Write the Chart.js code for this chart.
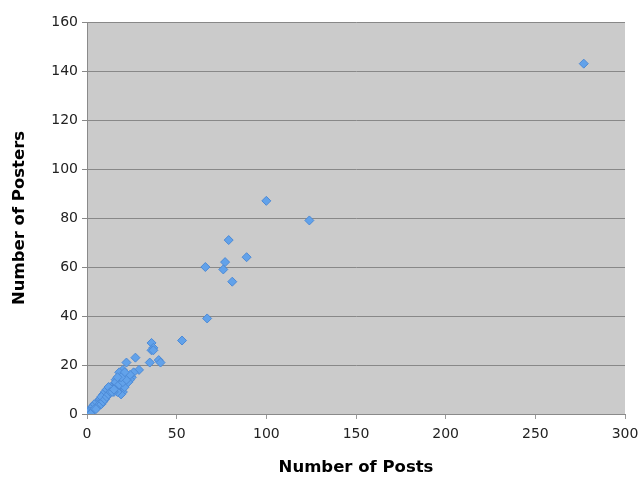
<!DOCTYPE html>
<html>
<head>
<meta charset="utf-8">
<script src="https://cdn.jsdelivr.net/npm/chart.js@4"></script>
<style>
  html, body { margin: 0; padding: 0; background: #fff; }
  #wrap { width: 641px; height: 478px; }
</style>
</head>
<body>
<div id="wrap"><canvas id="posts-chart" width="641" height="478"></canvas></div>
<script>
// values
var posts = [277, 100, 124, 79, 89, 77, 66, 76, 81, 67, 53,
    36, 37, 36, 37, 40, 41, 35, 27, 22, 20, 29, 18, 25, 16, 24,
    14, 18, 20, 19, 15, 17, 21, 23, 19, 22, 26, 12, 13, 11, 10,
    10, 9, 9, 8, 8, 7, 7, 6, 6, 5, 5, 4, 4, 3, 3, 2, 2, 1, 1, 0.5,
    11, 12, 13, 14, 16, 17, 15, 9, 10, 8, 11, 12, 16, 18, 20, 22, 24, 21, 19, 17,
    6, 7, 8, 9, 10, 11, 12, 13, 14, 15, 3, 4, 5, 2];
var posters = [143, 87, 79, 71, 64, 62, 60, 59, 54, 39, 30,
    29, 27, 26, 26, 22, 21, 21, 23, 21, 18, 18, 17, 15, 14, 14,
    11, 9, 9, 8, 12, 11, 11, 13, 13, 16, 17, 10, 11, 9, 8,
    7, 7, 6, 6, 5, 5, 6, 5, 4, 4, 3, 3, 4, 2, 3, 2, 1, 1, 0, 0.5,
    8, 9, 10, 10, 10, 9, 9, 8, 9, 7, 10, 11, 13, 12, 13, 14, 16, 17, 15, 15,
    3, 4, 4, 5, 6, 7, 8, 9, 9, 10, 1, 2, 2, 0];
var xTicks = [0, 50, 100, 150, 200, 250, 300];
var yTicks = [0, 20, 40, 60, 80, 100, 120, 140, 160];

var points = posts.map(function (p, i) {
    return { x: p, y: posters[i] };
});

// grey plot area like the spreadsheet chart
var plotBackground = {
    id: 'plotBackground',
    beforeDraw: function (chart) {
        var a = chart.chartArea, c = chart.ctx;
        c.save();
        c.fillStyle = '#cbcbcb';
        c.fillRect(a.left, a.top, a.right - a.left, a.bottom - a.top);
        c.restore();
    }
};

var tickFont = { family: 'DejaVu Sans', size: 14 };
var titleFont = { family: 'DejaVu Sans', size: 16.5, weight: 'bold' };

var ctx = document.getElementById('posts-chart').getContext('2d');
var chart = new Chart(ctx, {
    type: 'scatter',
    data: {
        datasets: [{
            label: 'Posters',
            data: points,
            pointStyle: 'rectRot',
            pointRadius: 4.5,
            backgroundColor: '#62a2ea',
            borderColor: '#4d8ad6',
            borderWidth: 1
        }]
    },
    options: {
        responsive: false,
        animation: false,
        layout: { padding: { top: 22, right: 16, left: 0, bottom: 0 } },
        plugins: {
            legend: { display: false },
            tooltip: { enabled: false }
        },
        scales: {
            x: {
                type: 'linear',
                min: 0,
                max: 300,
                afterBuildTicks: function (s) { s.ticks = xTicks.map(function (v) { return { value: v }; }); },
                afterFit: function (s) { s.height = 64; s.paddingRight = 0; s.paddingLeft = 0; },
                ticks: { font: tickFont, color: '#222', padding: 7, maxRotation: 0 },
                grid: { drawOnChartArea: false, drawTicks: true, tickLength: 5, color: '#999' },
                border: { color: '#8a8a8a' },
                title: { display: true, text: 'Number of Posts', font: titleFont, color: '#000', padding: { top: 14, bottom: 0 } }
            },
            y: {
                type: 'linear',
                min: 0,
                max: 160,
                afterBuildTicks: function (s) { s.ticks = yTicks.map(function (v) { return { value: v }; }); },
                afterFit: function (s) { s.width = 87; },
                ticks: { font: tickFont, color: '#222', padding: 4 },
                grid: { color: '#888', lineWidth: 1, tickLength: 5 },
                border: { color: '#8a8a8a' },
                title: { display: true, text: 'Number of Posters', font: titleFont, color: '#000', padding: { top: 10, bottom: 4 } }
            }
        }
    },
    plugins: [plotBackground]
});
</script>
</body>
</html>
